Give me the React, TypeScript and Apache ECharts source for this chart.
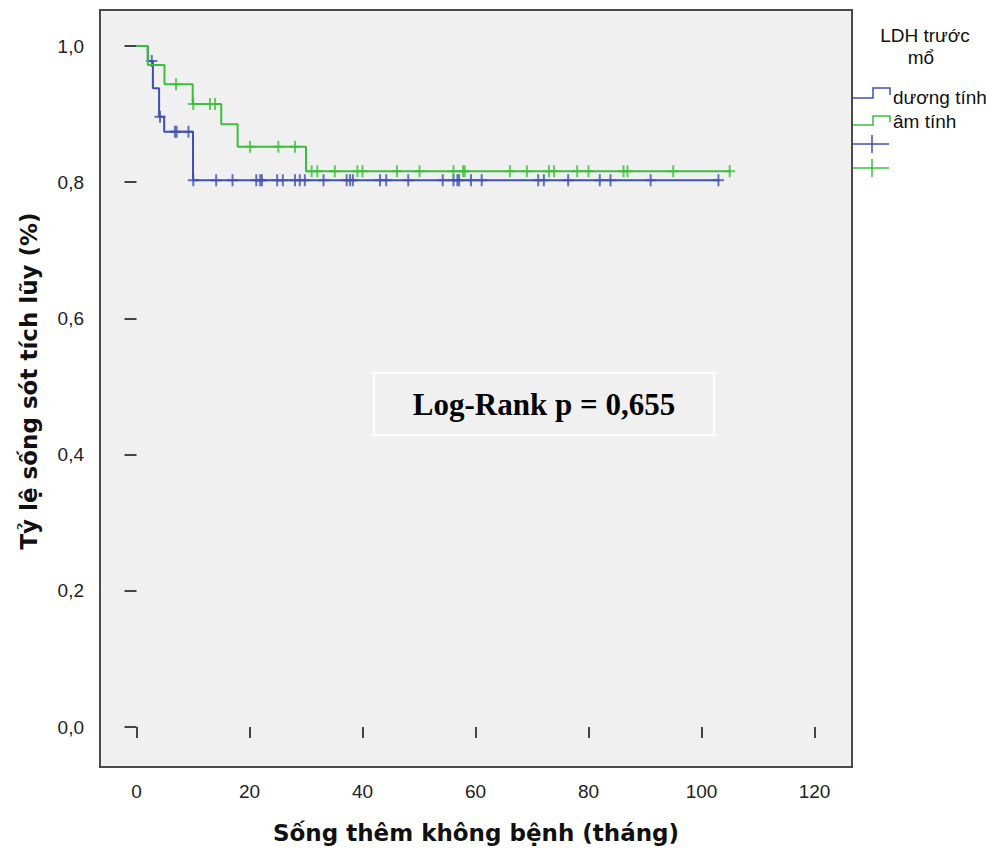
import React, { useEffect, useRef } from "react";
import * as echarts from "echarts";

// ---- data ----
const xTickValues = [0, 20, 40, 60, 80, 100, 120];
const yTickValues = [0, 0.2, 0.4, 0.6, 0.8, 1.0];

const groupNames = ["dương tính", "âm tính"];
const legendTitle = ["LDH trước", "mổ"];
const xTitle = "Sống thêm không bệnh (tháng)";
const yTitle = "Tỷ lệ sống sót tích lũy (%)";
const testLabel = "Log-Rank p = 0,655";

// Kaplan-Meier steps: LDH dương tính
const posTimes = [0, 2.0, 2.9, 4.0, 4.9, 10.0, 103.2];
const posSurv = [1.0, 0.978, 0.938, 0.896, 0.874, 0.803, 0.803];
const posCensored = [
  2.7, 4.16, 6.8, 7.1, 9.2, 10.05, 14.1, 17.0, 21.2, 21.9, 22.2, 24.9, 25.9,
  28.05, 28.9, 29.8, 33.1, 37.2, 37.8, 38.3, 43.1, 44.2, 48.1, 54.2, 56.1,
  56.8, 57.1, 59.2, 61.1, 71.1, 72.1, 76.4, 82.0, 83.9, 91.0, 103.0,
];

// Kaplan-Meier steps: LDH âm tính
const negTimes = [0, 2.0, 4.95, 9.95, 15.0, 17.9, 30.0, 105.2];
const negSurv = [1.0, 0.972, 0.944, 0.915, 0.885, 0.852, 0.816, 0.816];
const negCensored = [
  7.0, 10.05, 13.0, 13.9, 20.1, 25.1, 28.05, 31.0, 32.0, 35.1, 39.1, 40.0,
  46.1, 50.1, 56.1, 57.8, 58.1, 66.1, 69.1, 73.0, 73.9, 78.0, 80.0, 86.2,
  86.9, 95.0, 105.0,
];

const BLUE = "#3e50b2";
const GREEN = "#3cbf3c";
const CROSS = "path://M4.5,0h2v12h-2z M0,5h11v2h-11z";

function levelAt(times: number[], surv: number[], t: number) {
  let s = surv[0];
  for (let i = 0; i < times.length; i++) {
    if (times[i] <= t) s = surv[i];
  }
  return s;
}

export default function App() {
  const ref = useRef<HTMLDivElement>(null);
  useEffect(() => {
    if (!ref.current) return;
    const chart = echarts.init(ref.current, null, { renderer: "svg" });
    const posLine = posTimes.map((t, i) => [t, posSurv[i]]);
    const negLine = negTimes.map((t, i) => [t, negSurv[i]]);
    const posCens = posCensored.map((t) => [t, levelAt(posTimes, posSurv, t)]);
    const negCens = negCensored.map((t) => [t, levelAt(negTimes, negSurv, t)]);

    const tickFont = {
      fontFamily: "'Liberation Sans', Arial, sans-serif",
      fontSize: 19,
      color: "#222",
    };

    chart.setOption({
      animation: false,
      backgroundColor: "#ffffff",
      grid: {
        left: 100,
        top: 10,
        width: 752,
        height: 757,
        show: true,
        backgroundColor: "#f0f0f0",
        borderColor: "#4a4a4a",
        borderWidth: 2,
      },
      xAxis: {
        type: "value",
        min: -6.46,
        max: 126.64,
        axisLine: { show: false },
        splitLine: { show: false },
        axisTick: {
          show: true,
          length: 11,
          customValues: xTickValues,
          lineStyle: { color: "#444", width: 2 },
        },
        axisLabel: {
          customValues: xTickValues,
          margin: 15,
          ...tickFont,
          formatter: (v: number) => String(v),
        },
      },
      yAxis: {
        type: "value",
        min: -0.0587,
        max: 1.0529,
        axisLine: { show: false },
        splitLine: { show: false },
        axisTick: {
          show: true,
          length: 12,
          customValues: yTickValues,
          lineStyle: { color: "#444", width: 2 },
        },
        axisLabel: {
          customValues: yTickValues,
          margin: 16,
          ...tickFont,
          formatter: (v: number) => v.toFixed(1).replace(".", ","),
        },
      },
      series: [
        {
          name: groupNames[0],
          type: "line",
          step: "end",
          data: posLine,
          showSymbol: false,
          lineStyle: { color: BLUE, width: 2 },
          z: 2,
        },
        {
          name: groupNames[0] + " censored",
          type: "scatter",
          data: posCens,
          symbol: CROSS,
          symbolSize: [11, 12],
          itemStyle: { color: BLUE },
          z: 3,
        },
        {
          name: groupNames[1],
          type: "line",
          step: "end",
          data: negLine,
          showSymbol: false,
          lineStyle: { color: GREEN, width: 2 },
          z: 4,
        },
        {
          name: groupNames[1] + " censored",
          type: "scatter",
          data: negCens,
          symbol: CROSS,
          symbolSize: [11, 12],
          itemStyle: { color: GREEN },
          z: 5,
        },
      ],
      graphic: [
        // Log-rank box
        {
          type: "rect",
          shape: { x: 374, y: 373, width: 340, height: 62 },
          style: { fill: "#f0f0f0", stroke: "#ffffff", lineWidth: 2 },
          z: 10,
        },
        {
          type: "text",
          x: 544,
          y: 404,
          style: {
            text: testLabel,
            fontFamily: "'Liberation Serif', 'Times New Roman', serif",
            fontWeight: "bold",
            fontSize: 31,
            fill: "#000",
            align: "center",
            verticalAlign: "middle",
          },
          z: 11,
        },
        // axis titles
        {
          type: "text",
          x: 476,
          y: 833,
          style: {
            text: xTitle,
            fontFamily: "'DejaVu Sans', sans-serif",
            fontWeight: "bold",
            fontSize: 23,
            fill: "#111",
            align: "center",
            verticalAlign: "middle",
          },
        },
        {
          type: "text",
          x: 29,
          y: 381,
          rotation: Math.PI / 2,
          style: {
            text: yTitle,
            fontFamily: "'DejaVu Sans', sans-serif",
            fontWeight: "bold",
            fontSize: 23,
            fill: "#111",
            align: "center",
            verticalAlign: "middle",
          },
        },
        // legend
        {
          type: "text",
          x: 925,
          y: 35,
          style: {
            text: legendTitle[0],
            fontFamily: "'Liberation Sans', Arial, sans-serif",
            fontSize: 19,
            fill: "#111",
            align: "center",
            verticalAlign: "middle",
          },
        },
        {
          type: "text",
          x: 921,
          y: 57,
          style: {
            text: legendTitle[1],
            fontFamily: "'Liberation Sans', Arial, sans-serif",
            fontSize: 19,
            fill: "#111",
            align: "center",
            verticalAlign: "middle",
          },
        },
        {
          type: "polyline",
          shape: { points: [[853, 98], [873, 98], [873, 88], [890, 88], [890, 95]] },
          style: { stroke: BLUE, lineWidth: 1.5, fill: null },
        },
        {
          type: "text",
          x: 893,
          y: 97,
          style: {
            text: groupNames[0],
            fontFamily: "'Liberation Sans', Arial, sans-serif",
            fontSize: 19,
            fill: "#111",
            align: "left",
            verticalAlign: "middle",
          },
        },
        {
          type: "polyline",
          shape: { points: [[853, 125], [873, 125], [873, 116], [890, 116], [890, 122]] },
          style: { stroke: GREEN, lineWidth: 1.5, fill: null },
        },
        {
          type: "text",
          x: 893,
          y: 121,
          style: {
            text: groupNames[1],
            fontFamily: "'Liberation Sans', Arial, sans-serif",
            fontSize: 19,
            fill: "#111",
            align: "left",
            verticalAlign: "middle",
          },
        },
        {
          type: "line",
          shape: { x1: 853, y1: 144, x2: 889, y2: 144 },
          style: { stroke: BLUE, lineWidth: 1.5 },
        },
        {
          type: "line",
          shape: { x1: 872, y1: 135, x2: 872, y2: 153 },
          style: { stroke: BLUE, lineWidth: 1.5 },
        },
        {
          type: "line",
          shape: { x1: 853, y1: 168, x2: 889, y2: 168 },
          style: { stroke: GREEN, lineWidth: 1.5 },
        },
        {
          type: "line",
          shape: { x1: 872, y1: 159, x2: 872, y2: 177 },
          style: { stroke: GREEN, lineWidth: 1.5 },
        },
      ],
    });
    return () => chart.dispose();
  }, []);

  return (
    <div
      ref={ref}
      style={{
        position: "fixed",
        left: 0,
        top: 0,
        width: 994,
        height: 852,
        background: "#ffffff",
      }}
    />
  );
}
